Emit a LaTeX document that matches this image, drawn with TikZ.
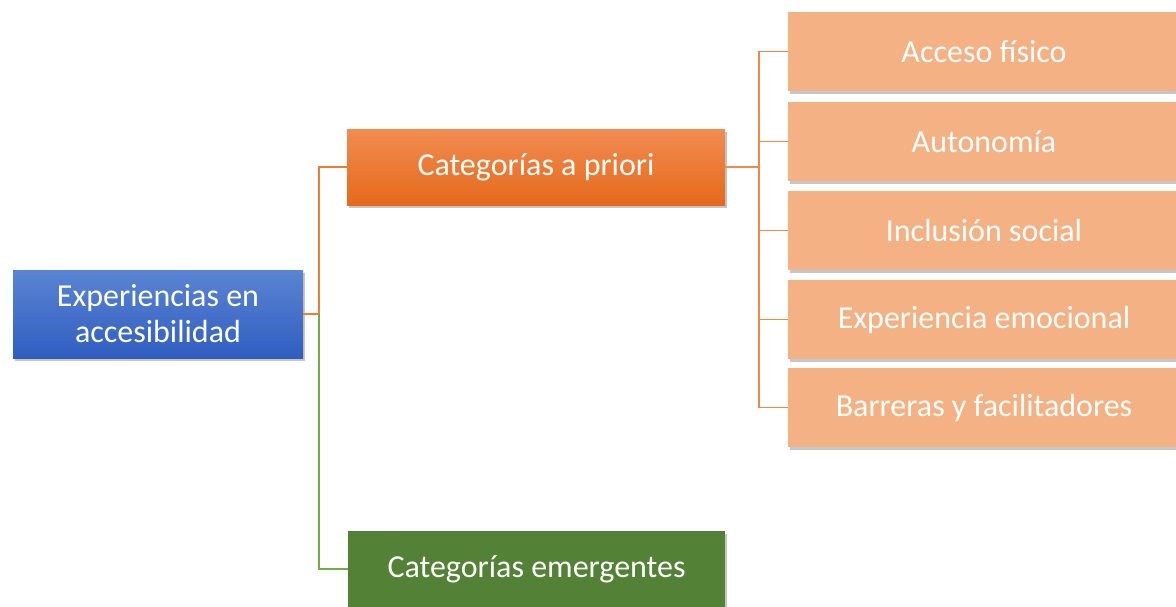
\documentclass[tikz,border=0pt]{standalone}
\usepackage{fontspec}
\setmainfont{Carlito}
\usetikzlibrary{shadows}
\definecolor{bluetop}{HTML}{5B84D3}
\definecolor{bluebot}{HTML}{2F5EBF}
\definecolor{orgtop}{HTML}{F18C52}
\definecolor{orgbot}{HTML}{E5691A}
\definecolor{greenbox}{HTML}{538135}
\definecolor{greenline}{HTML}{70AD47}
\definecolor{orgline}{HTML}{ED7D31}
\definecolor{peach}{HTML}{F4B183}
\tikzset{
  boxbase/.style={rectangle, inner sep=0pt, text=white, align=center,
    font=\fontsize{32}{36}\selectfont,
    drop shadow={opacity=0.45, shadow xshift=2pt, shadow yshift=-3pt}},
  rootbox/.style={boxbase, minimum width=290pt, minimum height=88pt,
    top color=bluetop, bottom color=bluebot},
  midbox/.style={boxbase, minimum width=378pt, minimum height=76pt,
    top color=orgtop, bottom color=orgbot},
  greenbx/.style={boxbase, minimum width=377pt, minimum height=76pt,
    fill=greenbox},
  leafbox/.style={boxbase, minimum width=392pt, minimum height=79pt,
    fill=peach},
  orgconn/.style={draw=orgline, line width=2pt},
  greenconn/.style={draw=greenline, line width=2pt},
  leafconn/.style={draw=orgline!90, line width=1.3pt}
}
\begin{document}
\begin{tikzpicture}[x=1pt,y=-1pt]
\useasboundingbox (0,0) rectangle (1176,606);
\node[rootbox] (root) at (158,314) {Experiencias en\\accesibilidad};
\node[midbox] (pri) at (536,167) {Categorías a priori};
\node[greenbx] (emer) at (536.5,569) {Categorías emergentes};
\node[leafbox] (l1) at (984,51.5) {Acceso físico};
\node[leafbox] (l2) at (984,141.5) {Autonomía};
\node[leafbox] (l3) at (984,230.5) {Inclusión social};
\node[leafbox] (l4) at (984,319.5) {Experiencia emocional};
\node[leafbox] (l5) at (984,407.5) {Barreras y facilitadores};
\coordinate (j1) at (319,314);
\coordinate (j2) at (759,167);
\draw[orgconn] (root.east) -- (j1) |- (pri.west);
\draw[greenconn] (j1) |- (emer.west);
\foreach \n in {l1,l2,l3,l4,l5}{
  \draw[leafconn] (pri.east) -- (j2) |- (\n.west);
}
\end{tikzpicture}
\end{document}
